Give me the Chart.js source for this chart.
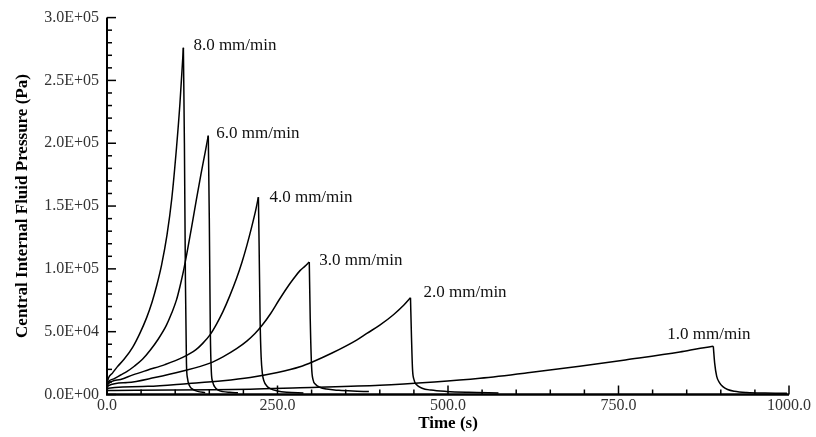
<!DOCTYPE html>
<html>
<head>
<meta charset="utf-8">
<style>
  html, body { margin: 0; padding: 0; background: #fff; }
  canvas { display: block; }
</style>
</head>
<body>
<canvas id="pressureChart" width="816" height="437"></canvas>

<script src="https://cdn.jsdelivr.net/npm/chart.js"></script>
<script>
// loading rates (series names)
const rateLabels = ["8.0 mm/min", "6.0 mm/min", "4.0 mm/min", "3.0 mm/min", "2.0 mm/min", "1.0 mm/min"];

// time (s) and central pressure (Pa)
const time8 = [0, 2, 8, 15, 25, 38, 48, 58, 66, 73, 80, 88, 95, 102, 107, 112, 113.5, 115, 116.5, 118, 121, 126, 133, 144];
const press8 = [8000, 13000, 17000, 22000, 28000, 38000, 48500, 61000, 73500, 87000, 103000, 127000, 156000, 197000, 232000, 276000, 200000, 90000, 25000, 13000, 7000, 4000, 2500, 1500];

const time6 = [0, 2, 10, 20, 29, 40, 52, 63, 75, 87, 95, 102, 107, 112, 117, 124, 131, 138, 144, 148.5, 150, 151.5, 153, 155, 158, 163, 170, 180, 192];
const press6 = [7000, 10000, 12500, 15500, 18200, 22500, 28000, 35000, 44000, 55000, 65000, 75500, 86000, 98000, 112000, 133000, 155000, 176000, 193000, 206000, 140000, 50000, 18000, 10000, 6000, 3500, 2300, 1700, 1300];

const time4 = [0, 2, 20, 38, 60, 85, 111, 130, 140, 151, 161, 170, 180, 190, 198, 205, 212, 218, 222, 223, 224.5, 226, 228, 230, 234, 240, 250, 264, 288];
const press4 = [6000, 8500, 12000, 15600, 19500, 23800, 29500, 35500, 40500, 47500, 56500, 66000, 78500, 92500, 105500, 118500, 133000, 146500, 157000, 120000, 59000, 30000, 16000, 11000, 7000, 4500, 2800, 1800, 1200];

const time3 = [0, 2, 30, 70, 110, 151, 170, 190, 205, 217, 228, 240, 252, 264, 274, 283, 290, 296.6, 298, 300, 302, 306, 312, 322, 340, 360, 384];
const press3 = [5000, 7000, 9500, 13500, 18500, 25000, 30000, 36500, 42500, 48500, 55500, 64500, 75000, 85000, 92500, 98600, 102000, 105500, 60000, 22000, 12000, 8000, 5800, 4300, 3300, 2700, 2300];

const time2 = [0, 2, 60, 120, 170, 210, 250, 283, 302, 330, 366, 381, 400, 420, 435, 445, 446.5, 448, 450, 454, 462, 475, 498, 530, 574];
const press2 = [3500, 5000, 6500, 8800, 11000, 13600, 17500, 22100, 26100, 33000, 43300, 48600, 55200, 63500, 71000, 77000, 45000, 20000, 12000, 7700, 5000, 3500, 2400, 1700, 1200];

const time1 = [0, 2, 100, 210, 283, 400, 480, 547, 620, 693, 760, 840, 870, 889, 891, 894, 898, 903, 910, 920, 938, 965, 997];
const press1 = [2500, 3200, 3600, 4200, 5400, 7300, 10000, 13000, 17500, 22500, 27500, 33800, 36800, 38400, 25000, 14400, 9500, 6300, 4000, 2600, 1600, 1100, 900];

const seriesTimes = [time8, time6, time4, time3, time2, time1];
const seriesPress = [press8, press6, press4, press3, press2, press1];

// axis ticks
const xTicks = [0, 250, 500, 750, 1000];
const yTicks = [0, 50000, 100000, 150000, 200000, 250000, 300000];

function sci(v) {
  if (v === 0) return "0.0E+00";
  const e = Math.floor(Math.log10(v) + 1e-9);
  const m = v / Math.pow(10, e);
  return m.toFixed(1) + "E+" + String(e).padStart(2, "0");
}

const serif = "'Liberation Serif', 'Times New Roman', serif";

function peakIndex(p) {
  return p.indexOf(Math.max(...p));
}

// each curve = loading part + relaxation part, so the peak stays sharp
const datasets = [];
seriesPress.forEach((p, i) => {
  const t = seriesTimes[i];
  const k = peakIndex(p);
  const pts = p.map((v, j) => ({ x: t[j], y: v }));
  [pts.slice(0, k + 1), pts.slice(k)].forEach(part => {
    datasets.push({
      label: rateLabels[i],
      data: part,
      borderColor: "#000",
      borderWidth: 1.5,
      pointRadius: 0,
      cubicInterpolationMode: "monotone",
      fill: false
    });
  });
});

// inward ticks + axis lines
const axesPlugin = {
  id: "axesPlugin",
  afterDraw(chart) {
    const ctx = chart.ctx;
    const xs = chart.scales.x, ys = chart.scales.y;
    const x0 = xs.getPixelForValue(0), x1 = xs.getPixelForValue(1000);
    const y0 = ys.getPixelForValue(0), y1 = ys.getPixelForValue(300000);
    ctx.save();
    ctx.strokeStyle = "#000";
    ctx.lineWidth = 1.5;
    for (let v = 0; v <= 300000; v += 10000) {
      const y = ys.getPixelForValue(v);
      const len = v % 50000 === 0 ? 9 : 5;
      ctx.beginPath();
      ctx.moveTo(x0, y);
      ctx.lineTo(x0 + len, y);
      ctx.stroke();
    }
    for (let v = 0; v <= 1000; v += 50) {
      const x = xs.getPixelForValue(v);
      const len = v % 250 === 0 ? 9 : 5;
      ctx.beginPath();
      ctx.moveTo(x, y0);
      ctx.lineTo(x, y0 - len);
      ctx.stroke();
    }
    ctx.lineWidth = 2;
    ctx.beginPath();
    ctx.moveTo(x0, y1);
    ctx.lineTo(x0, y0);
    ctx.stroke();
    ctx.lineWidth = 2.5;
    ctx.beginPath();
    ctx.moveTo(x0 - 1, y0);
    ctx.lineTo(x1, y0);
    ctx.stroke();
    ctx.restore();
  }
};

// rate labels next to each peak
const labelOffsets = [[10, -2], [8, -2], [11, 0], [10, -1], [13, -5], [-46, -12]];
const peakLabels = {
  id: "peakLabels",
  afterDatasetsDraw(chart) {
    const ctx = chart.ctx;
    ctx.save();
    ctx.font = "17px " + serif;
    ctx.fillStyle = "#111";
    ctx.textBaseline = "middle";
    ctx.textAlign = "left";
    seriesPress.forEach((p, i) => {
      const k = peakIndex(p);
      const x = chart.scales.x.getPixelForValue(seriesTimes[i][k]);
      const y = chart.scales.y.getPixelForValue(p[k]);
      ctx.fillText(rateLabels[i], x + labelOffsets[i][0], y + labelOffsets[i][1]);
    });
    ctx.restore();
  }
};

new Chart(document.getElementById("pressureChart"), {
  type: "line",
  data: { datasets },
  options: {
    responsive: false,
    animation: false,
    devicePixelRatio: 1,
    layout: { padding: { left: 0, right: 27, top: 16, bottom: 0 } },
    plugins: { legend: { display: false }, tooltip: { enabled: false } },
    scales: {
      x: {
        type: "linear",
        min: 0,
        max: 1000,
        afterBuildTicks: s => { s.ticks = xTicks.map(v => ({ value: v })); },
        afterFit: s => { s.height = 42.5; },
        grid: { display: false, drawTicks: false },
        border: { display: false },
        ticks: {
          padding: 2,
          color: "#333",
          font: { family: serif, size: 16 },
          maxRotation: 0,
          callback: v => Number(v).toFixed(1)
        },
        title: {
          display: true,
          text: "Time (s)",
          color: "#000",
          font: { family: serif, size: 17, weight: "bold" },
          padding: { top: 0, bottom: 3 }
        }
      },
      y: {
        type: "linear",
        min: 0,
        max: 300000,
        afterBuildTicks: s => { s.ticks = yTicks.map(v => ({ value: v })); },
        afterFit: s => { s.width = 107; },
        grid: { display: false, drawTicks: false },
        border: { display: false },
        ticks: {
          padding: 8,
          color: "#333",
          font: { family: serif, size: 16 },
          callback: v => sci(v)
        },
        title: {
          display: true,
          text: "Central Internal Fluid Pressure (Pa)",
          color: "#000",
          font: { family: serif, size: 17, weight: "bold" },
          padding: { top: 12, bottom: 0 }
        }
      }
    }
  },
  plugins: [axesPlugin, peakLabels]
});
</script>
</body>
</html>
